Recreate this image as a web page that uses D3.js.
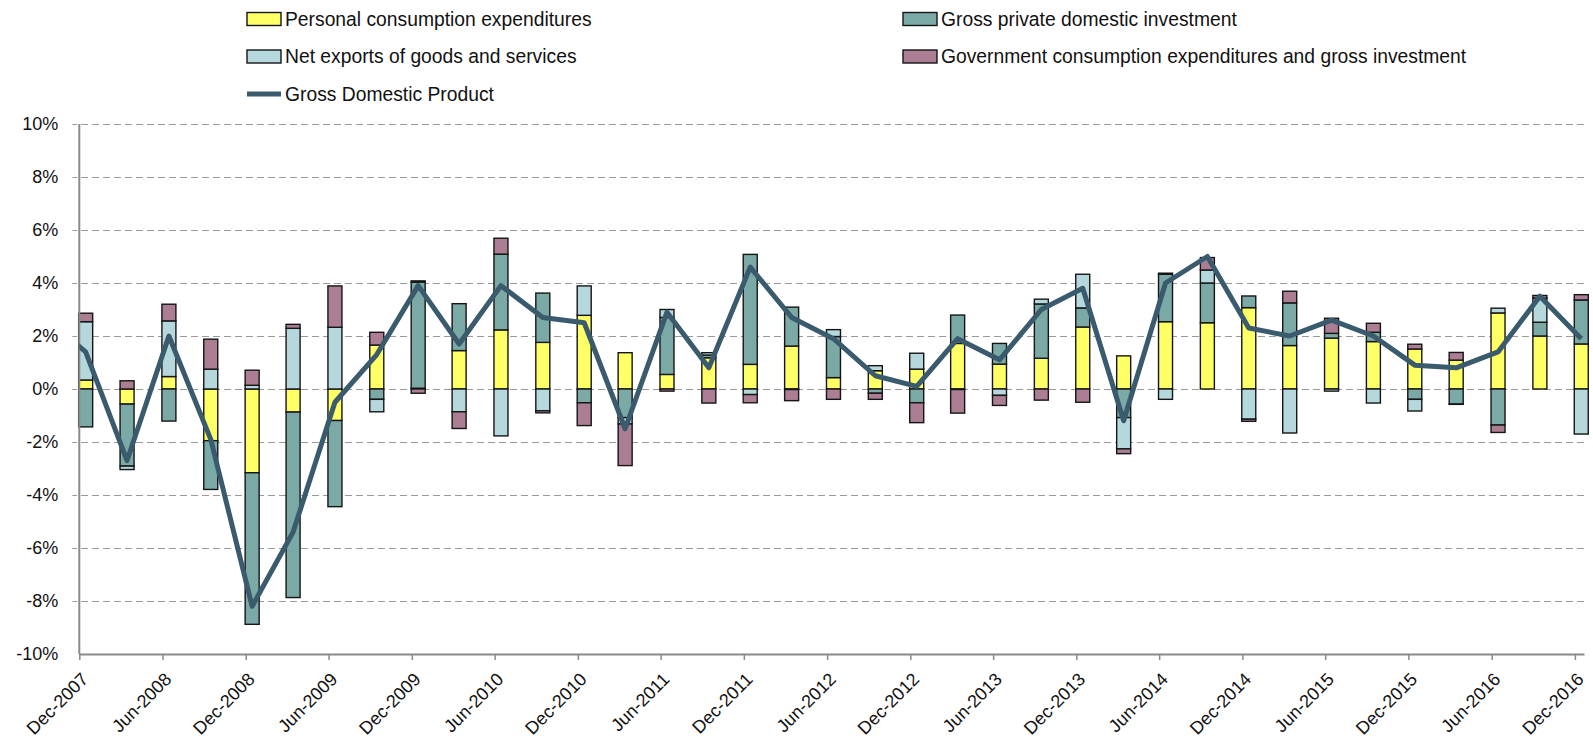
<!DOCTYPE html>
<html>
<head>
<meta charset="utf-8">
<script src="https://cdn.jsdelivr.net/npm/d3@7"></script>
<style>
  body { margin: 0; background: #fff; }
  svg { display: block; font-family: "Liberation Sans", Arial, sans-serif; }
</style>
</head>
<body>
<div id="chart"></div>
<script>
// quarterly contributions to percent change in real GDP (percentage points)
const quarters = [
  "2007-12", "2008-03", "2008-06", "2008-09", "2008-12", "2009-03", "2009-06", "2009-09",
  "2009-12", "2010-03", "2010-06", "2010-09", "2010-12", "2011-03", "2011-06", "2011-09",
  "2011-12", "2012-03", "2012-06", "2012-09", "2012-12", "2013-03", "2013-06", "2013-09",
  "2013-12", "2014-03", "2014-06", "2014-09", "2014-12", "2015-03", "2015-06", "2015-09",
  "2015-12", "2016-03", "2016-06", "2016-09", "2016-12"
];
const pce = [
  0.34, -0.57, 0.47, -1.95, -3.16, -0.87, -1.19, 1.66,
  0.03, 1.45, 2.23, 1.76, 2.78, 1.37, 0.55, 1.18,
  0.93, 1.62, 0.43, 0.69, 0.75, 1.72, 0.94, 1.16,
  2.34, 1.25, 2.54, 2.50, 3.07, 1.64, 1.92, 1.79,
  1.51, 1.09, 2.87, 2.00, 1.70
];
const investment = [
  -1.43, -2.34, -1.21, -1.84, -5.72, -7.00, -3.25, -0.39,
  4.00, 1.77, 2.86, 1.86, -0.52, -1.08, 2.15, 0.10,
  4.15, 1.47, 1.55, -0.16, -0.52, 1.07, 0.78, 2.05,
  0.72, -1.08, 1.79, 1.50, 0.44, 1.61, 0.18, 0.35,
  -0.39, -0.57, -1.36, 0.52, 1.66
];
const netExports = [
  2.20, -0.13, 2.10, 0.75, 0.14, 2.29, 2.33, -0.47,
  0.05, -0.86, -1.77, -0.82, 1.11, -0.24, 0.30, 0.09,
  -0.21, -0.02, 0.26, 0.19, 0.60, -0.02, -0.24, 0.18,
  1.27, -1.18, -0.39, 0.49, -1.14, -1.66, -0.08, -0.53,
  -0.44, -0.01, 0.18, 0.91, -1.70
];
const government = [
  0.32, 0.31, 0.63, 1.13, 0.57, 0.15, 1.56, 0.48,
  -0.16, -0.63, 0.60, -0.08, -0.86, -1.57, -0.08, -0.53,
  -0.31, -0.42, -0.39, -0.23, -0.75, -0.89, -0.38, -0.42,
  -0.50, -0.18, 0.04, 0.47, -0.08, 0.44, 0.57, 0.34,
  0.18, 0.29, -0.28, 0.10, 0.20
];
const gdp = [
  1.4, -2.7, 2.0, -1.9, -8.2, -5.4, -0.5, 1.3,
  3.9, 1.7, 3.9, 2.7, 2.5, -1.5, 2.9, 0.8,
  4.6, 2.7, 1.9, 0.5, 0.1, 1.9, 1.1, 3.0,
  3.8, -1.2, 4.0, 5.0, 2.3, 2.0, 2.6, 2.0,
  0.9, 0.8, 1.4, 3.5, 1.9
];
// the GDP line starts one quarter before the axis and is clipped at the edge
const priorQuarter = "2007-09";
const priorGdp = 2.7;

const tickLabels = [
  "Dec-2007", "Jun-2008", "Dec-2008", "Jun-2009", "Dec-2009", "Jun-2010", "Dec-2010",
  "Jun-2011", "Dec-2011", "Jun-2012", "Dec-2012", "Jun-2013", "Dec-2013", "Jun-2014",
  "Dec-2014", "Jun-2015", "Dec-2015", "Jun-2016", "Dec-2016"
];
const yTicks = [-10, -8, -6, -4, -2, 0, 2, 4, 6, 8, 10];

const seriesNames = {
  pce: "Personal consumption expenditures",
  investment: "Gross private domestic investment",
  netExports: "Net exports of goods and services",
  government: "Government consumption expenditures and gross investment",
  gdp: "Gross Domestic Product"
};

const colors = {
  pce: "#ffff66",
  investment: "#7ba9a6",
  netExports: "#b5d8dc",
  government: "#ab7e94",
  gdp: "#3a5a6d"
};

const W = 1593, H = 743;
const plot = { left: 79.3, right: 1584, top: 124, bottom: 654 };
const barWidth = 14;

const parseQuarter = q => d3.timeParse("%Y-%m-%d")(q + "-15");
const parseTick = d3.timeParse("%b-%Y");

const rows = quarters.map((q, i) => ({
  date: parseQuarter(q),
  pce: pce[i],
  investment: investment[i],
  netExports: netExports[i],
  government: government[i],
  gdp: gdp[i]
}));

const keys = ["pce", "investment", "netExports", "government"];

const x = d3.scaleTime()
  .domain([new Date(2007, 11, 1), new Date(2016, 11, 21)])
  .range([plot.left, plot.right]);

const y = d3.scaleLinear()
  .domain([-10, 10])
  .range([plot.bottom, plot.top]);

const stacked = d3.stack()
  .keys(keys)
  .offset(d3.stackOffsetDiverging)(rows);

const svg = d3.select("#chart").append("svg")
  .attr("width", W)
  .attr("height", H);

svg.append("defs").append("clipPath")
  .attr("id", "plot-clip")
  .append("rect")
  .attr("x", plot.left)
  .attr("y", plot.top - 10)
  .attr("width", plot.right - plot.left)
  .attr("height", plot.bottom - plot.top + 20);

// gridlines (dashed), including the short outside tick on the left
const grid = svg.append("g")
  .attr("transform", "translate(" + plot.right + ",0)")
  .call(d3.axisLeft(y)
    .tickValues(yTicks.filter(v => v !== -10))
    .tickSize(plot.right - plot.left + 7)
    .tickFormat(""));
grid.select(".domain").remove();
grid.selectAll(".tick line")
  .attr("stroke", "#9a9a9a")
  .attr("stroke-width", 1)
  .attr("stroke-dasharray", "7,4");

// y labels
const yAxis = svg.append("g")
  .attr("transform", "translate(" + plot.left + ",0)")
  .call(d3.axisLeft(y)
    .tickValues(yTicks)
    .tickSize(0)
    .tickPadding(21)
    .tickFormat(d => d + "%"));
yAxis.select(".domain").remove();
yAxis.selectAll("text")
  .attr("fill", "#111")
  .style("font-size", "18px")
  .style("font-family", "'Liberation Sans', Arial, sans-serif");

// stacked bars
const layer = svg.append("g")
  .selectAll("g")
  .data(stacked)
  .join("g")
  .attr("fill", d => colors[d.key]);

layer.selectAll("rect")
  .data(d => d)
  .join("rect")
  .attr("x", d => x(d.data.date) - barWidth / 2)
  .attr("y", d => y(Math.max(d[0], d[1])))
  .attr("width", barWidth)
  .attr("height", d => Math.abs(y(d[0]) - y(d[1])))
  .attr("stroke", "#151515")
  .attr("stroke-width", 1.4);

// left axis line
svg.append("line")
  .attr("x1", plot.left).attr("x2", plot.left)
  .attr("y1", plot.top).attr("y2", plot.bottom)
  .attr("stroke", "#8a8a8a")
  .attr("stroke-width", 2);

// x axis
const xAxis = svg.append("g")
  .attr("transform", "translate(0," + plot.bottom + ")")
  .call(d3.axisBottom(x)
    .tickValues(tickLabels.map(parseTick))
    .tickSize(6)
    .tickSizeOuter(0)
    .tickFormat(d3.timeFormat("%b-%Y")));
xAxis.select(".domain")
  .attr("stroke", "#8a8a8a")
  .attr("stroke-width", 2);
xAxis.selectAll(".tick line")
  .attr("stroke", "#8a8a8a")
  .attr("stroke-width", 1.5);
xAxis.selectAll("text")
  .attr("fill", "#111")
  .attr("y", 0)
  .attr("dy", ".35em")
  .attr("transform", "translate(5,22) rotate(-45)")
  .style("text-anchor", "end")
  .style("font-size", "18px")
  .style("font-family", "'Liberation Sans', Arial, sans-serif");

// GDP line
const linePoints = [{ date: parseQuarter(priorQuarter), gdp: priorGdp }].concat(rows);
svg.append("path")
  .datum(linePoints)
  .attr("clip-path", "url(#plot-clip)")
  .attr("fill", "none")
  .attr("stroke", colors.gdp)
  .attr("stroke-width", 5)
  .attr("stroke-linejoin", "round")
  .attr("d", d3.line()
    .x(d => x(d.date))
    .y(d => y(d.gdp)));

// legend
const legendItems = ["pce", "investment", "netExports", "government", "gdp"];
const legendCols = [247, 903];
const legendRowY = [19, 56.5, 94];

const legend = svg.append("g")
  .selectAll("g")
  .data(legendItems)
  .join("g")
  .attr("transform", (d, i) => "translate(" + legendCols[i % 2] + "," + legendRowY[Math.floor(i / 2)] + ")");

legend.filter(d => d !== "gdp").append("rect")
  .attr("x", 0)
  .attr("y", -6.5)
  .attr("width", 34)
  .attr("height", 13)
  .attr("fill", d => colors[d])
  .attr("stroke", "#151515")
  .attr("stroke-width", 1.4);

legend.filter(d => d === "gdp").append("line")
  .attr("x1", 0).attr("x2", 34)
  .attr("y1", 0).attr("y2", 0)
  .attr("stroke", colors.gdp)
  .attr("stroke-width", 5);

legend.append("text")
  .attr("x", 38)
  .attr("dy", ".35em")
  .attr("fill", "#111")
  .style("font-size", "19.3px")
  .text(d => seriesNames[d]);
</script>
</body>
</html>
